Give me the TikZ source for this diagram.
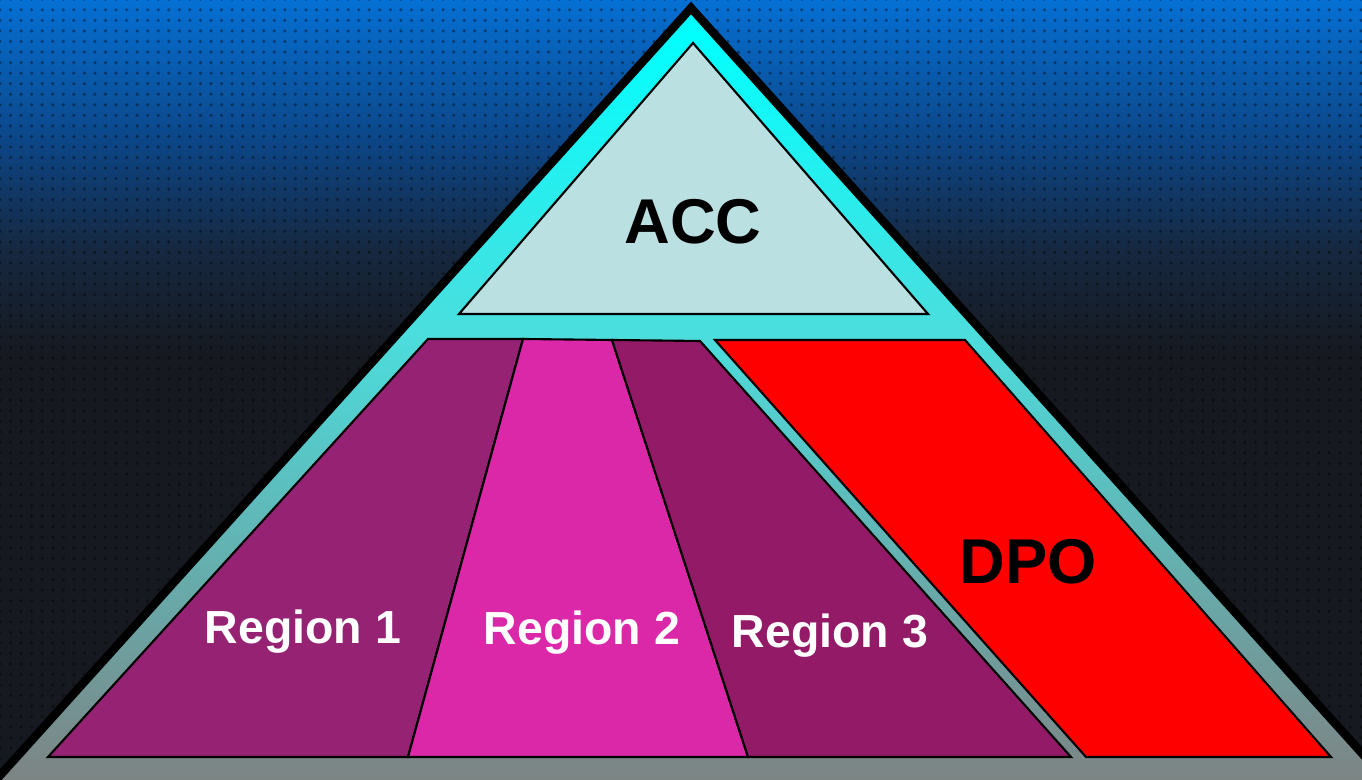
\documentclass[tikz,border=0pt]{standalone}
\usepackage{fontspec}
\setmainfont{Liberation Sans}
\usepackage{tikz}
\usetikzlibrary{patterns,positioning,calc}

\definecolor{bgblue}{RGB}{5,112,212}
\definecolor{bgmid}{RGB}{12,70,135}
\definecolor{bgnight}{RGB}{22,40,64}
\definecolor{bgdark}{RGB}{22,25,31}
\definecolor{acccol}{RGB}{186,224,226}
\definecolor{pyrmid}{RGB}{75,222,222}
\definecolor{regA}{RGB}{150,34,116}
\definecolor{regB}{RGB}{218,40,168}
\definecolor{regC}{RGB}{146,26,102}
\pgfdeclareverticalshading{bgshade}{100bp}{color(0bp)=(bgdark); color(25bp)=(bgdark);
	color(52bp)=(bgdark); color(59bp)=(bgnight); color(66bp)=(bgmid); color(75bp)=(bgblue); color(100bp)=(bgblue)}
\pgfdeclareverticalshading{pyrshade}{100bp}{color(0bp)=(gray); color(25bp)=(gray);
	color(54.7bp)=(pyrmid); color(74bp)=(cyan); color(100bp)=(cyan)}

\begin{document}
\begin{tikzpicture}[x=0.01cm,y=-0.01cm,
	part/.style={draw=black,line width=0.6pt,line join=miter},
	bigtext/.style={font=\fontsize{18}{20}\selectfont\bfseries,text=black},
	regtext/.style={font=\fontsize{13.2}{15}\selectfont\bfseries,text=white}]
	\useasboundingbox (0,0) rectangle (1362,780);
	% background
	\shade[shading=bgshade] (0,0) rectangle (1362,780);
	\fill[pattern=dots,pattern color=black,opacity=0.4] (0,0) rectangle (1362,780);
	\begin{scope}
	\clip (0,0) rectangle (1362,780);
	% outer pyramid
	\shade[shading=pyrshade,draw=black,line width=2.4pt,line join=miter]
		(691,8) -- (1404,800) -- (-22,800) -- cycle;
	\end{scope}
	% top
	\draw[part,fill=acccol] (693,43) -- (928,314) -- (459,314) -- cycle;
	% regions
	\draw[part,fill=regA] (428,339) -- (523,339) -- (408,757) -- (48,757) -- cycle;
	\draw[part,fill=regB] (523,339) -- (612,340) -- (748,757) -- (408,757) -- cycle;
	\draw[part,fill=regC] (612,340) -- (700,341) -- (1071,757) -- (748,757) -- cycle;
	\draw[part,fill=red] (715,340) -- (965,340) -- (1331,757) -- (1086,757) -- cycle;
	% labels
	\node[bigtext] (acc) at (693,222) {ACC};
	\node[bigtext] (dpo) at (1028,562) {DPO};
	\node[regtext] (reg1) at (303,632) {Region 1};
	\node[regtext] (reg2) at (582,633) {Region 2};
	\node[regtext] (reg3) at (830,636) {Region 3};
\end{tikzpicture}
\end{document}
